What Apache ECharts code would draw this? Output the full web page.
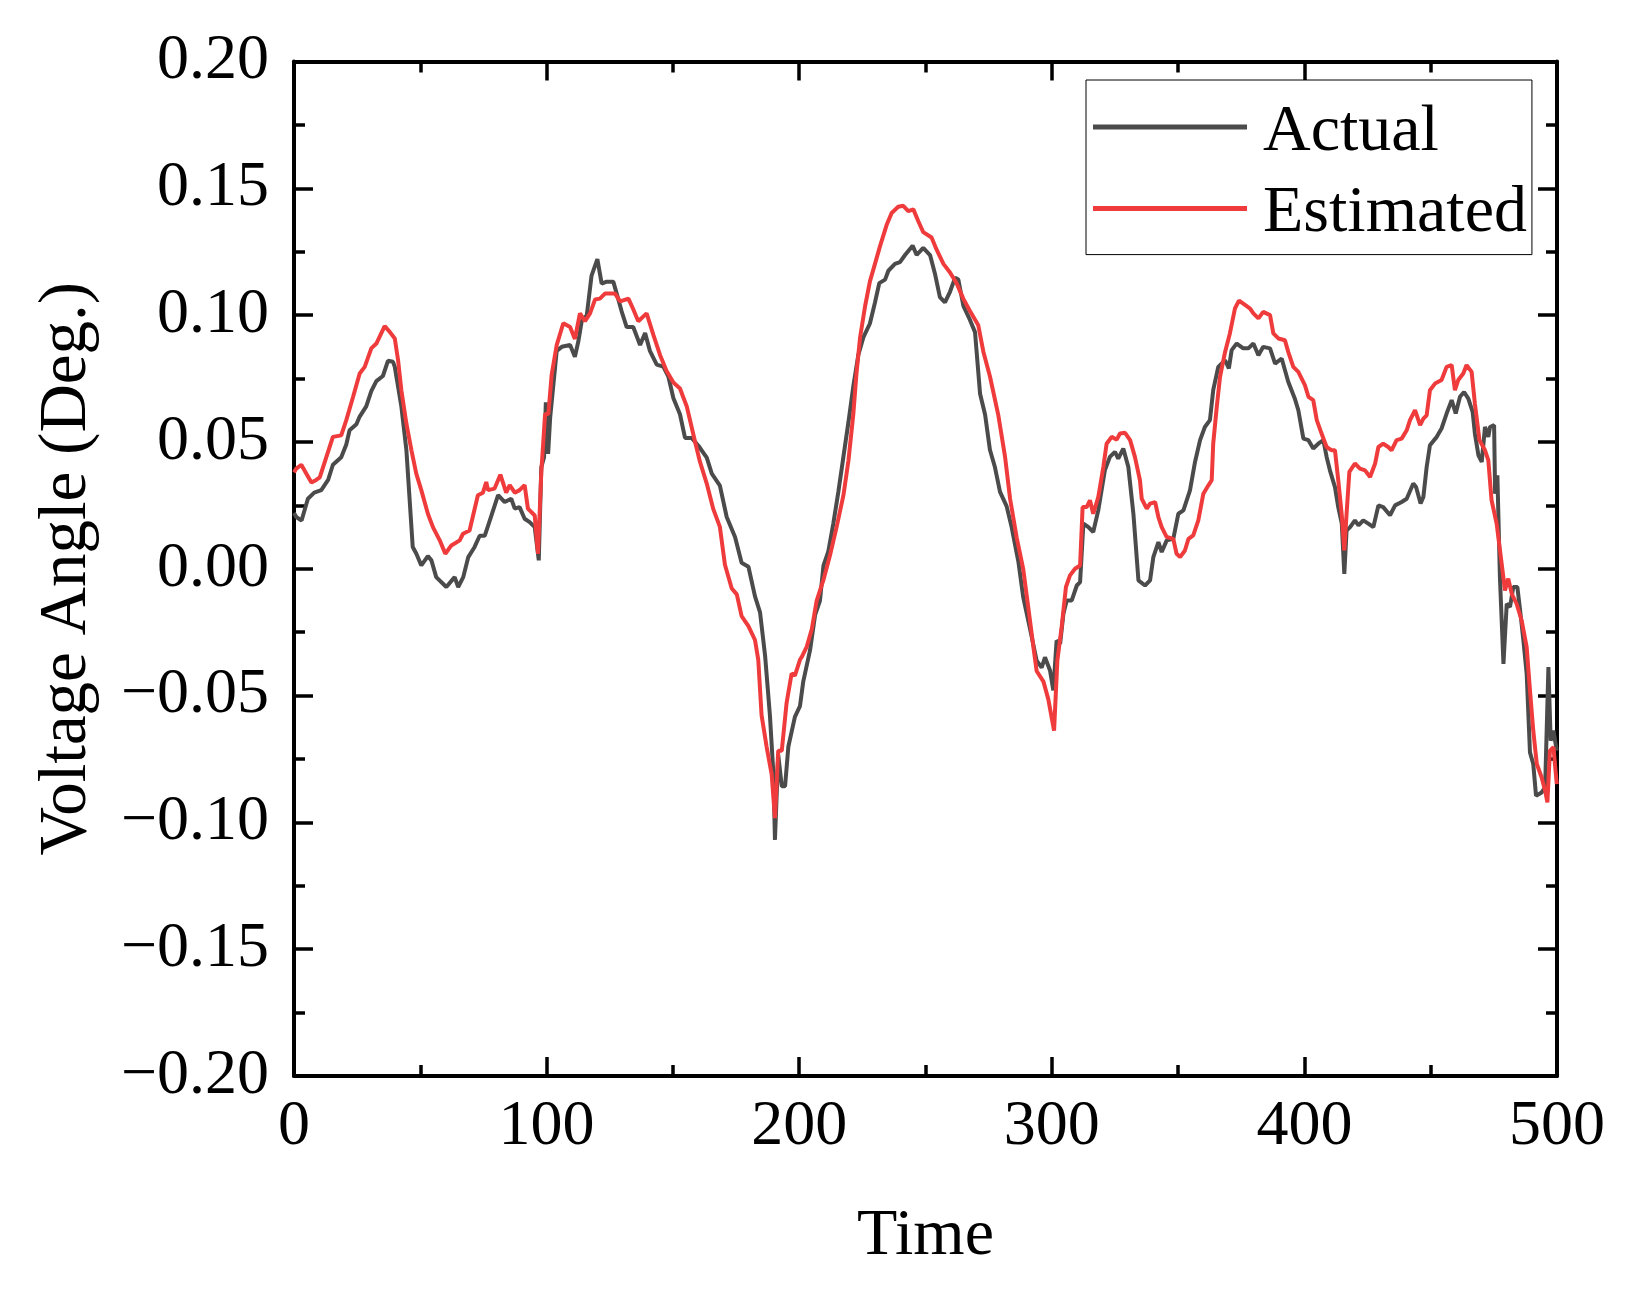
<!DOCTYPE html>
<html>
<head>
<meta charset="utf-8">
<script src="https://cdn.jsdelivr.net/npm/echarts@6/dist/echarts.min.js"></script>
<style>
html,body{margin:0;padding:0;background:#fff;}
#chart{width:1643px;height:1292px;}
</style>
</head>
<body>
<div id="chart"></div>
<script>
// ---- Data ----
const seriesNames = ['Actual', 'Estimated'];
const xTickValues = [0, 100, 200, 300, 400, 500];
const yTickValues = [-0.20, -0.15, -0.10, -0.05, 0.00, 0.05, 0.10, 0.15, 0.20];

const actualTime = [0,0.9,3,5.5,8,10.8,13.5,15.4,18.7,20.7,22,24.7,26,28.6,30.6,32.6,35.2,37.2,39.2,39.9,42.5,44.5,47,48.4,50.4,53,54.4,56.3,60.3,63.6,65,67,69,71.5,73.5,75.5,77.5,80.8,83.4,86,87.4,89.3,91.3,93.3,95.3,96.9,97.9,99.0,99.7,100.6,101.4,104,106,109.3,111.2,112.6,113.9,115.9,117.8,120.1,121.8,123.8,126.4,128.4,129.7,131.7,134.3,137,139,140.9,143.6,146.2,148.2,150.2,152.8,154.8,157.4,160.1,163.4,165.4,168.6,171.3,174.6,177.2,179.9,182.5,184.5,186.5,188.4,189.8,190.4,191.7,193.1,194.4,195.7,198.3,200.3,201.6,204.3,206.3,208.2,209.6,211.5,213.5,215.5,217.5,219.5,221.4,223.4,225.4,228,230,231.7,234,235.3,237.9,239.9,241.9,244.9,246.5,249.1,251.8,253.8,255.7,257.7,259.7,261.7,263,265,267.6,269.6,271.6,273.6,275.5,277.5,279.5,282.1,284.1,286.8,288.7,291.4,294,296,297.3,299.3,300.6,301.9,303.3,304.6,305.9,307.9,309.9,311.2,312.5,314.5,316.4,318.4,321,323,325,326.3,328.3,330.3,332.3,334.3,336.9,338.9,340.2,342.2,343.5,345.5,348.1,350.1,352.1,354.7,356.7,358.7,360.6,362.6,363.9,365.9,368.6,370.1,371.2,373.2,375.8,377.8,379.8,381.8,383.7,386.4,388.4,391,393.6,396.3,397.6,399.6,401.6,403.5,405.5,407.5,408.8,410.1,412.1,413.4,414.8,415.8,416.7,418.1,420,421.4,423.3,425.3,427.3,429.3,431.2,433.9,435.9,438.5,440.5,443.1,444.2,446,447.1,448.4,449.7,452.4,454.3,456.3,458.3,459.9,461.6,463.2,464.9,466.6,467.5,468.9,470.2,471.5,472.8,473.5,475.1,475.5,476.4,477.4,478.8,480.1,481.4,482.7,484.3,485.4,486.7,488,489.3,490.6,491.7,493.9,495.3,496.6,497.5,498.6,499.9];
const actualValue = [0.022,0.0204,0.019,0.0276,0.030,0.031,0.035,0.041,0.044,0.049,0.0546,0.057,0.060,0.064,0.070,0.074,0.076,0.082,0.0816,0.0796,0.064,0.0467,0.0086,0.006,0.0013,0.005,0.0033,-0.0033,-0.0072,-0.0033,-0.0072,-0.0033,0.0046,0.0086,0.013,0.013,0.019,0.029,0.0263,0.0276,0.0237,0.0243,0.0197,0.0184,0.0164,0.0033,0.040,0.044,0.0656,0.0453,0.0594,0.0859,0.0875,0.0882,0.0836,0.0898,0.0976,0.0999,0.1156,0.1221,0.1124,0.1132,0.1132,0.1062,0.1015,0.0953,0.0953,0.0882,0.0929,0.0859,0.0805,0.0797,0.0758,0.0672,0.0609,0.0516,0.0516,0.0485,0.0438,0.0375,0.0328,0.0204,0.0125,0.0024,0.0008,-0.0109,-0.0172,-0.0343,-0.0577,-0.0811,-0.1069,-0.0733,-0.0858,-0.0858,-0.0702,-0.0584,-0.0542,-0.0445,-0.0321,-0.0182,-0.0127,0.0012,0.0067,0.0178,0.0303,0.0441,0.0579,0.0718,0.0843,0.0912,0.0967,0.105,0.1126,0.114,0.1175,0.1202,0.1209,0.1237,0.1274,0.1237,0.1265,0.1237,0.1161,0.1071,0.105,0.1092,0.1147,0.114,0.1036,0.0981,0.0933,0.069,0.0607,0.0469,0.040,0.0303,0.0247,0.0164,0.0026,-0.0113,-0.0238,-0.0362,-0.039,-0.0349,-0.0401,-0.048,-0.0283,-0.0296,-0.0178,-0.0125,-0.0125,-0.0066,-0.0053,0.0178,0.0164,0.0145,0.023,0.0388,0.0441,0.0461,0.0434,0.0474,0.0401,0.0217,-0.0046,-0.0066,-0.0046,0.0046,0.0105,0.0066,0.0112,0.0118,0.0217,0.023,0.0309,0.0421,0.0507,0.0559,0.0586,0.0704,0.0796,0.0822,0.079,0.0862,0.0888,0.0869,0.0869,0.0888,0.0842,0.0875,0.0869,0.0809,0.0829,0.0737,0.0668,0.0625,0.0513,0.0507,0.0474,0.0493,0.0507,0.0441,0.0388,0.0322,0.0243,0.0178,-0.002,0.0151,0.0164,0.0191,0.0171,0.0191,0.0178,0.0164,0.025,0.0243,0.0211,0.025,0.0263,0.0276,0.0336,0.0322,0.0257,0.0283,0.0401,0.0487,0.052,0.0553,0.0612,0.0665,0.0612,0.0678,0.0697,0.0671,0.0619,0.0533,0.0447,0.0421,0.0559,0.052,0.0559,0.0566,0.0296,0.0368,-0.0033,-0.0375,-0.0138,-0.0151,-0.0072,-0.0072,-0.0164,-0.0283,-0.0415,-0.0724,-0.077,-0.0895,-0.0882,-0.0862,-0.0388,-0.0678,-0.0638,-0.0717];

const estimatedTime = [0,0.9,2.9,4.9,6.9,8.8,10.2,12.8,15.4,18.7,20.7,23.4,26,28,30.6,32.6,35.9,37.9,39.9,41.2,42.5,44.5,46.5,48.4,50.4,53,55,57.7,59.9,62.3,65.6,66.9,69.5,72.8,74.8,76.1,76.8,79.4,81.7,84,85.4,87.4,89.3,91.3,92.6,95.3,96.6,97.9,99.4,100.7,102,104,106.6,109.3,111.2,113.2,115.2,117.2,119.2,121.1,123.1,125.1,127.1,129.1,132.4,134.3,136.3,139.6,142.3,144.9,147.5,150.2,152.8,155.5,158.8,160.7,163.4,166,168.6,170.6,173.3,175.3,177.2,179.9,182.5,183.8,185.1,187.1,189.1,190.4,191.7,193.1,195,197,198.3,200.3,201,203,205,206.9,209.6,212.2,214.8,217.5,219.5,221.4,222.7,224.1,226.1,228,230,232,234.6,236.6,239.2,241.2,243.2,245.2,247.2,249.1,252.4,254.4,257.1,259.7,262.3,265,267.6,270.9,272.9,275.5,278.8,281.5,283.5,286.1,288.7,290.7,292.7,294,296.7,298.6,299.3,300.9,302.2,303.9,305.6,307.2,309.2,311.2,312.2,313.8,315.1,316.4,318.4,320.4,321.7,323.7,325.7,327,329,331,332.9,334.9,335.6,337.6,338.9,340.9,342.2,343.5,345.5,348.1,349.4,350.8,352.7,354.1,356,358,360,362,363.3,363.9,365.3,366.6,368.6,370.5,372.5,374.1,376.5,378.5,379.8,381.8,383.7,386.4,387.7,389.7,392.3,393.6,395.6,397.6,400.2,401.6,403.5,404.9,406.8,408.8,410.8,412.1,413.4,414.8,415.8,416.7,417.8,420,422,424,426,428,429.3,431.2,433.2,434.5,436.5,438.5,440.5,441.8,443.8,445.8,447.1,448.4,449.7,451.7,454.3,456.3,458.3,459.6,460.9,462.9,464.2,466.2,467.5,469.3,471.5,472.8,474.1,476.1,478.1,479.4,480.7,482.1,484,486,488,489.3,490.6,492,493.9,495.3,496.2,497.2,498.6,499.9];
const estimatedValue = [0.038,0.0395,0.041,0.0375,0.034,0.035,0.036,0.044,0.052,0.0526,0.0586,0.0678,0.077,0.0796,0.0869,0.0888,0.0957,0.0934,0.0908,0.0822,0.0704,0.0572,0.0467,0.0375,0.031,0.0217,0.0164,0.0112,0.0059,0.0092,0.0112,0.0138,0.0151,0.029,0.030,0.0342,0.031,0.0316,0.0371,0.030,0.033,0.030,0.031,0.033,0.0237,0.021,0.0059,0.038,0.061,0.061,0.0765,0.0882,0.0968,0.0953,0.0906,0.1007,0.0976,0.1007,0.1062,0.1065,0.1085,0.1085,0.1085,0.1054,0.1065,0.1023,0.0976,0.1007,0.0921,0.0843,0.078,0.0734,0.0711,0.064,0.050,0.0422,0.0336,0.0235,0.0165,0.0016,-0.0078,-0.0101,-0.0187,-0.0226,-0.0281,-0.0359,-0.0577,-0.0702,-0.0811,-0.0983,-0.0718,-0.0718,-0.053,-0.0413,-0.0421,-0.0359,-0.0348,-0.0307,-0.0238,-0.0127,-0.0044,0.0053,0.0164,0.0289,0.0427,0.0607,0.0773,0.0912,0.1036,0.1133,0.1202,0.1272,0.1355,0.1403,0.1427,0.1431,0.141,0.1417,0.1369,0.1327,0.1306,0.1258,0.1202,0.1168,0.1126,0.1064,0.1016,0.096,0.0856,0.0759,0.0607,0.0441,0.0275,0.0123,-0.0002,-0.0154,-0.0307,-0.0403,-0.0445,-0.0514,-0.052,-0.0638,-0.0362,-0.023,-0.0072,-0.0026,0.0,0.0013,0.0243,0.0243,0.027,0.0217,0.0283,0.0401,0.0493,0.052,0.0509,0.0533,0.0536,0.0507,0.0441,0.0349,0.0276,0.0237,0.0257,0.0263,0.0204,0.0164,0.0125,0.0118,0.0059,0.0046,0.0072,0.0118,0.0132,0.0191,0.0296,0.0329,0.0349,0.0493,0.0638,0.0757,0.0855,0.0928,0.1026,0.1057,0.104,0.1026,0.1007,0.0987,0.1013,0.1,0.0928,0.0908,0.0901,0.0855,0.0796,0.0776,0.0724,0.0678,0.0665,0.0586,0.0533,0.048,0.0467,0.0467,0.0349,0.0211,0.0072,0.0217,0.0382,0.0415,0.0395,0.0388,0.0362,0.0415,0.048,0.0493,0.048,0.0467,0.0507,0.0513,0.0546,0.0586,0.0625,0.0566,0.0592,0.0605,0.0704,0.073,0.0744,0.0796,0.0803,0.0704,0.0744,0.077,0.0803,0.0776,0.0651,0.0507,0.0467,0.0428,0.027,0.0178,0.002,-0.0086,-0.0039,-0.0099,-0.0138,-0.0204,-0.0309,-0.048,-0.0638,-0.077,-0.0822,-0.0875,-0.0921,-0.0717,-0.0704,-0.0849];

const actualColor = '#4b4b4b';
const estimatedColor = '#ef3b3b';

// ---- Build chart ----
const pairs = (xs, ys) => xs.map((x, i) => [x, ys[i]]);
const FONT = "'Liberation Serif', 'Times New Roman', serif";
const fmtY = v => {
  const r = Math.round(v * 100) / 100;
  if (Math.abs(r) < 1e-9) return '0.00';
  return (r < 0 ? '\u2212' : '') + Math.abs(r).toFixed(2);
};

const axisLineStyle = { color: '#000', width: 4 };
const tickStyle = { color: '#000', width: 3.5 };
const baseX = {
  type: 'value', min: xTickValues[0], max: xTickValues[xTickValues.length - 1],
  interval: xTickValues[1] - xTickValues[0],
  axisLine: { show: true, onZero: false, lineStyle: axisLineStyle },
  axisTick: { show: true, inside: true, length: 19, lineStyle: tickStyle },
  minorTick: { show: true, splitNumber: 2, length: 11, lineStyle: tickStyle },
  splitLine: { show: false }, minorSplitLine: { show: false }
};
const baseY = {
  type: 'value', min: yTickValues[0], max: yTickValues[yTickValues.length - 1],
  interval: 0.05,
  axisLine: { show: true, onZero: false, lineStyle: axisLineStyle },
  axisTick: { show: true, inside: true, length: 19, lineStyle: tickStyle },
  minorTick: { show: true, splitNumber: 2, length: 11, lineStyle: tickStyle },
  splitLine: { show: false }, minorSplitLine: { show: false }
};

const chart = echarts.init(document.getElementById('chart'), null, { renderer: 'canvas' });
chart.setOption({
  animation: false,
  backgroundColor: '#fff',
  grid: { left: 294, right: 86, top: 61.5, bottom: 216, containLabel: false },
  xAxis: [
    Object.assign({}, baseX, {
      position: 'bottom',
      axisLabel: { show: true, margin: 19, fontSize: 64, fontFamily: FONT, color: '#000' },
      name: 'Time', nameLocation: 'middle', nameGap: 128,
      nameTextStyle: { fontSize: 66, fontFamily: FONT, color: '#000' }
    }),
    Object.assign({}, baseX, { position: 'top', axisLabel: { show: false } })
  ],
  yAxis: [
    Object.assign({}, baseY, {
      position: 'left',
      axisLabel: { show: true, margin: 25, fontSize: 64, fontFamily: FONT, color: '#000', formatter: fmtY },
      name: 'Voltage Angle (Deg.)', nameLocation: 'middle', nameGap: 193, nameRotate: 90,
      nameTextStyle: { fontSize: 67, fontFamily: FONT, color: '#000' }
    }),
    Object.assign({}, baseY, { position: 'right', axisLabel: { show: false } })
  ],
  legend: {
    show: true, orient: 'vertical', left: 1086, top: 80,
    itemWidth: 154, itemHeight: 16, itemGap: 15.6,
    icon: 'path://M0,0 L154,0 L154,5 L0,5 Z M0,16',
    padding: [19.5, 5, 7.5, 7],
    borderColor: '#000', borderWidth: 1, backgroundColor: '#fff',
    textStyle: { fontSize: 66, fontFamily: FONT, color: '#000', lineHeight: 64, padding: [0, 0, 0, 11] },
    data: seriesNames
  },
  series: [
    {
      name: seriesNames[0], type: 'line', xAxisIndex: 0, yAxisIndex: 0,
      data: pairs(actualTime, actualValue), symbol: 'none', showSymbol: false,
      lineStyle: { color: actualColor, width: 4 }, itemStyle: { color: actualColor }
    },
    {
      name: seriesNames[1], type: 'line', xAxisIndex: 0, yAxisIndex: 0,
      data: pairs(estimatedTime, estimatedValue), symbol: 'none', showSymbol: false,
      lineStyle: { color: estimatedColor, width: 4 }, itemStyle: { color: estimatedColor }
    }
  ]
});
</script>
</body>
</html>
